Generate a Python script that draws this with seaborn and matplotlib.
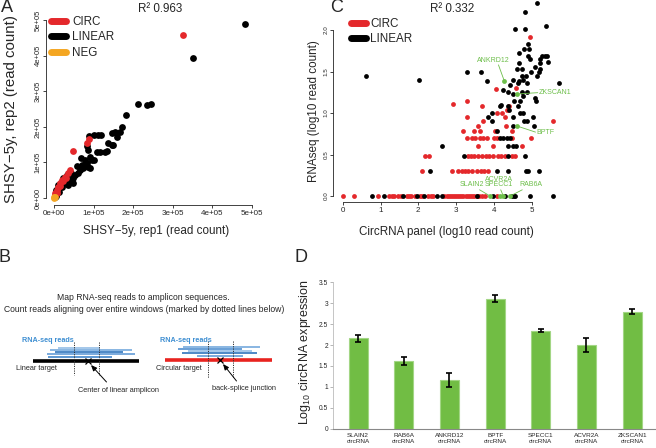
import matplotlib
matplotlib.use("Agg")
import matplotlib.pyplot as plt
import seaborn as sns
import numpy as np
from matplotlib.lines import Line2D

sns.set_style("ticks")
plt.rcParams['font.family'] = ['Liberation Sans', 'DejaVu Sans']
plt.rcParams['mathtext.fontset'] = 'custom'
plt.rcParams['mathtext.rm'] = 'Liberation Sans'
plt.rcParams['mathtext.it'] = 'Liberation Sans:italic'

RED = "#E4282B"; BLACK = "#000000"; ORANGE = "#F4A622"; GREEN = "#6DBE4A"
BAR_GREEN = "#71BD44"; BAR_EDGE = "#A3D685"; BLUE_TXT = "#3F8FD2"

# ---------------- Panel A data (read counts, units of 1e5) ----------------
a_circ_x = [3.25, 0.89, 0.83, 0.49, 0.40, 0.36, 0.28, 0.19, 0.15, 0.11, 0.07, 0.03,
            0.23, 0.31, 0.14, 0.08, 0.02]
a_circ_y = [4.57, 1.65, 1.54, 1.33, 0.79, 0.69, 0.60, 0.51, 0.41, 0.32, 0.22, 0.13,
            0.47, 0.56, 0.33, 0.14, 0.09]
a_lin_x = [4.82, 3.50, 2.13, 2.34, 2.44, 1.82, 1.71, 1.67, 1.54, 1.46,
           1.58, 1.37, 1.46, 1.20, 1.12, 1.29, 1.16, 1.08, 0.87, 0.91,
           0.95, 0.78, 0.83, 0.70, 0.74, 0.66, 0.61, 0.53, 0.49, 0.45,
           0.87, 0.91, 0.32, 0.24, 0.15, 0.40, 0.49, 0.36, 1.48, 1.01,
           0.89, 1.34, 0.84, 0.69, 1.00, 0.58, 0.44, 0.10, 0.06, 0.05,
           0.12, 0.20, 0.27, 0.03]
a_lin_y = [4.89, 3.92, 2.64, 2.61, 2.63, 2.33, 2.00, 1.86, 1.86, 1.82,
           1.71, 1.54, 1.49, 1.77, 1.77, 1.30, 1.30, 1.30, 1.35, 1.16,
           1.07, 1.07, 0.97, 0.93, 0.83, 0.79, 0.69, 0.65, 0.55, 0.46,
           0.88, 0.83, 0.65, 0.55, 0.37, 0.51, 0.41, 0.37, 1.50, 1.78,
           1.73, 1.31, 1.45, 1.12, 1.07, 0.89, 0.70, 0.37, 0.23, 0.05,
           0.18, 0.30, 0.42, 0.03]
a_neg_x = [0.00, 0.01, 0.02]
a_neg_y = [0.02, 0.01, 0.03]
a_ticks = [0, 1, 2, 3, 4, 5]
a_ticklabels = ["0e+00", "1e+05", "2e+05", "3e+05", "4e+05", "5e+05"]

# ---------------- Panel C data (log10 read counts) ----------------
c_circ_x = [0.00, 0.30, 0.93, 1.23, 1.30, 1.37, 1.47, 1.55, 1.69, 1.75, 1.81, 1.90,
            2.04, 2.10, 2.26, 2.33, 2.40, 2.68, 2.75, 2.80, 2.86, 2.92, 2.97, 3.03,
            3.08, 3.14, 3.19, 3.25, 3.31, 3.36, 3.41, 3.47, 3.54, 3.60, 3.68, 3.76, 4.07,
            2.11, 2.88, 3.06, 3.15, 3.24, 3.32, 3.43, 3.54, 3.65, 3.74, 3.84,
            2.18, 2.28, 3.31, 3.39, 3.48, 3.57, 3.68, 3.78, 3.87, 3.98, 4.12, 4.20, 4.29, 4.47, 4.56,
            3.57, 3.97, 4.74,
            3.28, 3.41, 3.50, 3.62, 3.72, 3.81, 3.99, 4.07, 4.47, 4.97,
            3.19, 3.46, 3.62, 4.03, 4.47,
            3.59, 4.32,
            3.72, 5.55,
            3.28, 4.29,
            4.07, 4.21,
            4.34,
            3.68, 4.40,
            2.91,
            3.28,
            4.06,
            4.59,
            4.96]
c_circ_y = [0.0, 0.0, 0.0, 0.0, 0.0, 0.0, 0.0, 0.0, 0.0, 0.0, 0.0, 0.0,
            0.0, 0.0, 0.0, 0.0, 0.0, 0.0, 0.0, 0.0, 0.0, 0.0, 0.0, 0.0,
            0.0, 0.0, 0.0, 0.0, 0.0, 0.0, 0.0, 0.0, 0.0, 0.0, 0.0, 0.0, 0.0,
            0.301, 0.301, 0.301, 0.301, 0.301, 0.301, 0.301, 0.301, 0.301, 0.301, 0.301,
            0.477, 0.477, 0.477, 0.477, 0.477, 0.477, 0.477, 0.477, 0.477, 0.477, 0.477, 0.477, 0.477, 0.477, 0.477,
            0.602, 0.602, 0.602,
            0.699, 0.699, 0.699, 0.699, 0.699, 0.699, 0.699, 0.699, 0.699, 0.699,
            0.778, 0.778, 0.778, 0.778, 0.778,
            0.845, 0.845,
            0.903, 0.903,
            0.954, 0.954,
            1.0, 1.0,
            1.041,
            1.079, 1.079,
            1.114,
            1.146,
            1.29,
            1.30,
            1.91]
c_lin_x = [0.78, 1.10, 1.60, 1.96, 2.16, 2.49, 2.62, 3.54, 3.98, 4.30, 4.47, 4.52, 4.56, 4.96, 5.57,
           2.31, 4.09, 4.38, 4.84, 4.91, 5.18,
           3.22, 4.38, 4.82,
           2.62, 4.38, 4.50, 4.58,
           4.16, 4.25, 4.34, 4.43,
           4.08,
           4.51, 5.06,
           3.95, 4.80, 4.87,
           3.85, 4.50, 5.03,
           3.94, 4.69, 4.76,
           4.41,
           4.16, 4.38, 4.65,
           4.20,
           4.53, 4.69, 5.11,
           5.08,
           4.78,
           4.51,
           4.36, 4.74, 4.87,
           4.23,
           4.43,
           4.65, 4.87, 5.71,
           3.83, 4.67,
           2.02, 4.50, 4.78,
           0.62, 4.74, 4.85, 5.13,
           3.28, 3.65, 4.97, 5.18,
           4.60, 4.74, 5.22,
           5.09,
           4.67, 5.22,
           5.42,
           4.96, 5.22,
           4.91, 5.26, 5.35, 5.41,
           4.67,
           4.80, 4.94,
           4.89,
           4.56, 4.82,
           5.37,
           4.82,
           5.15]
c_lin_y = [0.0, 0.0, 0.0, 0.0, 0.0, 0.0, 0.0, 0.0, 0.0, 0.0, 0.0, 0.0, 0.0, 0.0, 0.0,
           0.301, 0.301, 0.301, 0.301, 0.301, 0.301,
           0.477, 0.477, 0.477,
           0.602, 0.602, 0.602, 0.602,
           0.699, 0.699, 0.699, 0.699,
           0.778,
           0.845, 0.845,
           0.903, 0.903, 0.903,
           0.954, 0.954, 0.954,
           1.0, 1.0, 1.0,
           1.041,
           1.079, 1.079, 1.079,
           1.10,
           1.15, 1.15, 1.15,
           1.18,
           1.20,
           1.23,
           1.25, 1.25, 1.25,
           1.28,
           1.34,
           1.36, 1.36, 1.36,
           1.38, 1.38,
           1.40, 1.40, 1.40,
           1.45, 1.45, 1.45, 1.45,
           1.49, 1.49, 1.49, 1.49,
           1.53, 1.53, 1.53,
           1.56,
           1.60, 1.60,
           1.62,
           1.65, 1.65,
           1.69, 1.69, 1.69, 1.69,
           1.72,
           1.77, 1.77,
           1.83,
           2.01, 2.01,
           2.05,
           2.22,
           2.33]
c_val_names = ["SLAIN2", "ACVR2A", "SPECC1", "RAB6A", "BPTF", "ZKSCAN1", "ANKRD12"]
c_val_x = [3.90, 4.15, 4.25, 4.43, 4.60, 4.62, 4.28]
c_val_y = [0.0, 0.0, 0.0, 0.0, 0.845, 1.23, 1.38]
c_xticks = [0, 1, 2, 3, 4, 5]
c_yticks = [0.0, 0.5, 1.0, 1.5, 2.0]

# ---------------- Panel D data ----------------
d_genes = ["SLAIN2", "RAB6A", "ANKRD12", "BPTF", "SPECC1", "ACVR2A", "ZKSCAN1"]
d_vals = [2.16, 1.62, 1.16, 3.11, 2.34, 2.01, 2.80]
d_err = [0.09, 0.10, 0.17, 0.09, 0.04, 0.17, 0.05]
d_yticks = [0, 0.5, 1, 1.5, 2, 2.5, 3, 3.5]
d_yticklabels = ["0", "0.5", "1", "1.5", "2", "2.5", "3", "3.5"]

assert len(a_circ_x) == len(a_circ_y) and len(a_lin_x) == len(a_lin_y)
assert len(c_circ_x) == len(c_circ_y), (len(c_circ_x), len(c_circ_y))
assert len(c_lin_x) == len(c_lin_y), (len(c_lin_x), len(c_lin_y))

W, H = 656.0, 448.0
fig = plt.figure(figsize=(6.56, 4.48), dpi=100)


def add_px_axes(left, top, right, bottom):
    return fig.add_axes([left / W, 1 - bottom / H, (right - left) / W, (bottom - top) / H])


def ftext(x, y, s, **kw):
    fig.text(x / W, 1 - y / H, s, **kw)


def r_style(ax, xb, yb):
    for s in ["top", "right"]:
        ax.spines[s].set_visible(False)
    ax.spines["left"].set_bounds(*yb)
    ax.spines["bottom"].set_bounds(*xb)
    for s in ["left", "bottom"]:
        ax.spines[s].set_linewidth(0.6)
        ax.spines[s].set_color("#222222")
    ax.tick_params(length=2.4, width=0.6, color="#222222", pad=1)
    ax.set_facecolor("none")


# ---------------- Panel B (diagram) ----------------
axB = fig.add_axes([0, 0, 1, 1])
axB.set_xlim(0, W); axB.set_ylim(H, 0); axB.axis("off")
ftext(143, 297, "Map RNA-seq reads to amplicon sequences.", ha="center", va="center", fontsize=6.2)
ftext(144, 309, "Count reads aligning over entire windows (marked by dotted lines below)",
      ha="center", va="center", fontsize=6.2)
reads_left = [(58, 100, 347.7, "#9CC3E8"), (50, 132, 349.9, "#7FB0DF"), (55, 123, 352.1, "#3F7FC2"),
              (47, 135, 354.3, "#6FA4DA"), (48, 112, 356.6, "#4F8FCF")]
reads_right = [(183, 260, 346.7, "#7FB0DF"), (178, 242, 349.0, "#5D97D3"), (188, 252, 351.2, "#9CC3E8"),
               (182, 257, 353.4, "#3F7FC2"), (197, 243, 355.7, "#6FA4DA")]
for x0, x1, y, c in reads_left + reads_right:
    axB.plot([x0, x1], [y, y], color=c, lw=1.3, solid_capstyle="butt")
axB.plot([33, 138.5], [361, 361], color="black", lw=2.6, solid_capstyle="butt")
axB.plot([165, 272], [360.4, 360.4], color="#E8231F", lw=2.6, solid_capstyle="butt")
for xd, y0, y1 in [(74, 341.7, 375), (99.3, 341.7, 375), (208.3, 341, 378), (232.7, 341, 378)]:
    axB.plot([xd, xd], [y0, y1], color="#333333", lw=0.7, ls=(0, (1.2, 1.2)))
axB.plot([88.3, 220], [361, 360.4], ls="none", marker="x", ms=4, mew=0.9, color="black")
ftext(22, 340, "RNA-seq reads", color=BLUE_TXT, fontsize=5.2, ha="left", va="center", fontweight="bold")
ftext(160, 340, "RNA-seq reads", color=BLUE_TXT, fontsize=5.2, ha="left", va="center", fontweight="bold")
ftext(16.5, 368, "Linear target", fontsize=5.3, ha="left", va="center")
ftext(156, 368, "Circular target", fontsize=5.3, ha="left", va="center")
ftext(118, 391, "Center of linear amplicon", fontsize=5.3, ha="center", va="center")
ftext(244, 388, "back-splice junction", fontsize=5.3, ha="center", va="center")
axB.annotate("", xy=(91, 365), xytext=(106.5, 382),
             arrowprops=dict(arrowstyle="-|>,head_length=0.35,head_width=0.15", color="black", lw=0.7,
                             shrinkA=0, shrinkB=0))
axB.annotate("", xy=(223, 364), xytext=(236.5, 381),
             arrowprops=dict(arrowstyle="-|>,head_length=0.35,head_width=0.15", color="black", lw=0.7,
                             shrinkA=0, shrinkB=0))

# ---------------- Panel A ----------------
axA = add_px_axes(46.3, 16.6, 253.7, 205)
sns.scatterplot(x=a_lin_x, y=a_lin_y, color=BLACK, s=24, linewidth=0, ax=axA)
sns.scatterplot(x=a_circ_x, y=a_circ_y, color=RED, s=24, linewidth=0, ax=axA)
sns.scatterplot(x=a_neg_x, y=a_neg_y, color=ORANGE, s=24, linewidth=0, ax=axA)
axA.set_xlim(-0.194, 5.044); axA.set_ylim(-0.196, 5.096)
axA.set_xticks(a_ticks); axA.set_xticklabels(a_ticklabels, fontsize=5.8)
axA.set_yticks(a_ticks); axA.set_yticklabels(a_ticklabels, fontsize=5.5, rotation=90, va="center")
axA.set_xlabel(""); axA.set_ylabel("")
r_style(axA, (0, 5), (0, 5))
hA = [Line2D([0], [0], color=c, lw=5, solid_capstyle="round") for c in [RED, BLACK, ORANGE]]
axA.legend(hA, ["CIRC", "LINEAR", "NEG"], loc="upper left", bbox_to_anchor=(51 / W, 1 - 16 / H),
           bbox_transform=fig.transFigure, frameon=False, fontsize=8.4, handlelength=1.3,
           handletextpad=0.5, labelspacing=0.3, borderpad=0, borderaxespad=0)
ftext(160, 9.5, "R² 0.963", fontsize=8.4, ha="center", va="center")
ftext(156, 231, "SHSY\u22125y, rep1 (read count)", fontsize=8.4, ha="center", va="center")
ftext(11, 109, "SHSY\u22125y, rep2 (read count)", fontsize=10.8, ha="center", va="center", rotation=90)

# ---------------- Panel C ----------------
axC = add_px_axes(333, -3.2, 568, 202)
sns.scatterplot(x=c_circ_x, y=c_circ_y, color=RED, s=12, linewidth=0, ax=axC)
sns.scatterplot(x=c_lin_x, y=c_lin_y, color=BLACK, s=12, linewidth=0, ax=axC)
sns.scatterplot(x=c_val_x, y=c_val_y, color=GREEN, s=12, linewidth=0, ax=axC, zorder=5)
axC.set_xlim(-0.257, 5.96); axC.set_ylim(-0.072, 2.40)
axC.set_xticks(c_xticks); axC.set_xticklabels([str(t) for t in c_xticks], fontsize=5.8)
axC.set_yticks(c_yticks); axC.set_yticklabels([f"{t:.1f}" for t in c_yticks], fontsize=4.5,
                                              rotation=90, va="center")
axC.set_xlabel(""); axC.set_ylabel("")
r_style(axC, (0, 5), (0, 2))
label_pos = {"ANKRD12": (3.99, 1.63, "center", (4.12, 1.58)),
             "ZKSCAN1": (5.18, 1.245, "left", (5.16, 1.245)),
             "BPTF": (5.12, 0.76, "left", (5.10, 0.77)),
             "SLAIN2": (3.41, 0.133, "center", (3.62, 0.075)),
             "ACVR2A": (4.14, 0.205, "center", None),
             "SPECC1": (4.14, 0.133, "center", (4.18, 0.075)),
             "RAB6A": (4.97, 0.133, "center", (4.75, 0.075))}
for name, px_, py_ in zip(c_val_names, c_val_x, c_val_y):
    tx, ty, ha, lstart = label_pos[name]
    axC.text(tx, ty, name, color=GREEN, fontsize=5, ha=ha, va="center")
    if lstart is not None:
        axC.annotate("", xy=(px_, py_), xytext=lstart,
                     arrowprops=dict(arrowstyle="-", color=GREEN, lw=0.6, shrinkA=0, shrinkB=1))
hC = [Line2D([0], [0], color=c, lw=5, solid_capstyle="round") for c in [RED, BLACK]]
axC.legend(hC, ["CIRC", "LINEAR"], loc="upper left", bbox_to_anchor=(351 / W, 1 - 18 / H),
           bbox_transform=fig.transFigure, frameon=False, fontsize=8.4, handlelength=1.3,
           handletextpad=0.35, labelspacing=0.3, borderpad=0, borderaxespad=0)
ftext(452, 9.5, "R² 0.332", fontsize=8.4, ha="center", va="center")
ftext(446, 232, "CircRNA panel (log10 read count)", fontsize=8.4, ha="center", va="center")
ftext(314, 111, "RNAseq (log10 read count)", fontsize=8.4, ha="center", va="center", rotation=90)

# ---------------- Panel D ----------------
axD = add_px_axes(333, 282.3, 655, 428.7)
sns.barplot(x=d_genes, y=d_vals, color=BAR_GREEN, width=0.42, errorbar=None, ax=axD,
            edgecolor=BAR_EDGE, linewidth=0.8, saturation=1)
axD.errorbar(range(len(d_genes)), d_vals, yerr=d_err, fmt="none", ecolor="black",
             elinewidth=1.2, capsize=2.2, capthick=1.2)
axD.set_xlim(-0.55, 6.5); axD.set_ylim(0, 3.5)
axD.set_yticks(d_yticks); axD.set_yticklabels(d_yticklabels, fontsize=4.8)
axD.set_xticks(range(len(d_genes)))
axD.set_xticklabels([g + "\ncircRNA" for g in d_genes], fontsize=4.6, linespacing=1.3)
axD.tick_params(axis="x", length=0, pad=3)
axD.tick_params(axis="y", length=2, width=0.5, color="#999999", pad=1.5)
for s in ["top", "right"]:
    axD.spines[s].set_visible(False)
axD.spines["left"].set_color("#BBBBBB"); axD.spines["left"].set_linewidth(0.6)
axD.spines["bottom"].set_color("#888888"); axD.spines["bottom"].set_linewidth(0.8)
axD.set_xlabel(""); axD.set_ylabel("")
axD.set_facecolor("none")
ftext(305, 352, "Log$_{10}$ circRNA expression", fontsize=9, ha="center", va="center", rotation=90)

# panel letters
ftext(6.5, 7.5, "A", fontsize=13, ha="center", va="center")
ftext(336.5, 8, "C", fontsize=13, ha="center", va="center")
ftext(5, 258, "B", fontsize=13, ha="center", va="center")
ftext(300.5, 258, "D", fontsize=13, ha="center", va="center")

fig.savefig("out.png", dpi=100)
